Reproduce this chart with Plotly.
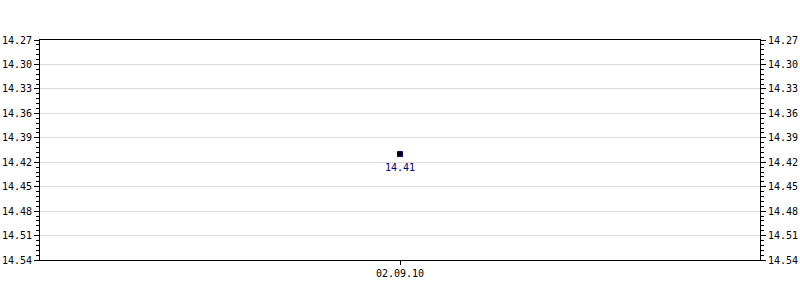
import plotly.graph_objects as go

dates = ["02.09.10"]
values = [14.41]
labels = ["14.41"]
y_ticks = [14.27, 14.30, 14.33, 14.36, 14.39, 14.42, 14.45, 14.48, 14.51, 14.54]

font_fam = "DejaVu Sans Mono, monospace"

fig = go.Figure()
fig.add_trace(go.Scatter(
    x=dates, y=values, mode="markers",
    marker=dict(symbol="square", size=5, color="#000000",
                line=dict(color="#000080", width=1)),
    showlegend=False, cliponaxis=False,
))
fig.add_trace(go.Scatter(
    x=dates, y=values, mode="markers", yaxis="y2",
    marker=dict(opacity=0), showlegend=False, hoverinfo="skip",
))
for d, v, t in zip(dates, values, labels):
    fig.add_annotation(x=d, y=v, text=t, showarrow=False, yshift=-13,
                       font=dict(family=font_fam, size=10, color="#000080"))

yax = dict(
    range=[y_ticks[-1], y_ticks[0]],
    tickvals=y_ticks, ticktext=[f"{v:.2f}" for v in y_ticks],
    ticks="outside", ticklen=5, tickcolor="#000", tickwidth=1,
    showline=True, linecolor="#000", linewidth=1,
    showgrid=True, gridcolor="#dddddd", gridwidth=1,
    zeroline=False, automargin=False,
    ticklabelstandoff=0,
    tickfont=dict(family=font_fam, size=10, color="#000"),
    minor=dict(dtick=0.006, tick0=14.27, ticks="outside", ticklen=3,
               tickcolor="#000", showgrid=False),
)

fig.update_layout(
    width=800, height=300,
    margin=dict(l=40, r=40, t=40, b=40),
    paper_bgcolor="#ffffff", plot_bgcolor="#ffffff",
    xaxis=dict(
        type="category", range=[-0.5, 0.5],
        ticks="outside", ticklen=4, tickcolor="#000",
        showline=True, linecolor="#000", linewidth=1, mirror=True,
        showgrid=False, zeroline=False, automargin=False,
        tickfont=dict(family=font_fam, size=10, color="#000"),
    ),
    yaxis=yax,
    yaxis2=dict(yax, overlaying="y", side="right", showgrid=False),
)

fig.write_html("out.html")
